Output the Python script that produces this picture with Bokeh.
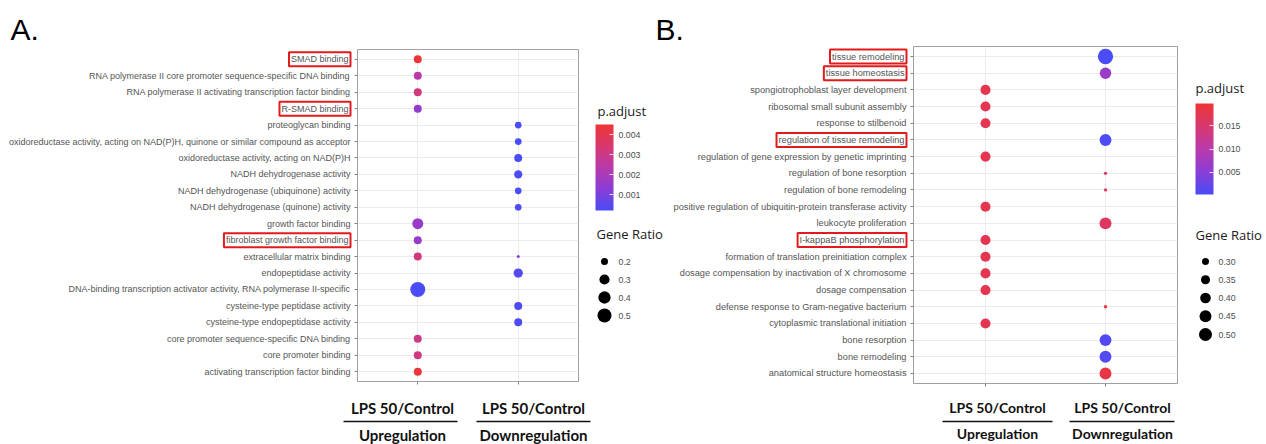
import math
from bokeh.plotting import figure
from bokeh.layouts import row, column
from bokeh.models import (ColumnDataSource, FactorRange, Range1d, LinearColorMapper,
                          ColorBar, FixedTicker, PrintfTickFormatter, Label, BoxAnnotation)
from bokeh.core.properties import value
from bokeh.embed import file_html
from bokeh.resources import INLINE

# ---------------- data ----------------
CONDITIONS = ["Upregulation", "Downregulation"]
CAPTION_TOP = "LPS 50/Control"
PANEL_LETTERS = ["A.", "B."]

A_terms = [
    "SMAD binding",
    "RNA polymerase II core promoter sequence-specific DNA binding",
    "RNA polymerase II activating transcription factor binding",
    "R-SMAD binding",
    "proteoglycan binding",
    "oxidoreductase activity, acting on NAD(P)H, quinone or similar compound as acceptor",
    "oxidoreductase activity, acting on NAD(P)H",
    "NADH dehydrogenase activity",
    "NADH dehydrogenase (ubiquinone) activity",
    "NADH dehydrogenase (quinone) activity",
    "growth factor binding",
    "fibroblast growth factor binding",
    "extracellular matrix binding",
    "endopeptidase activity",
    "DNA-binding transcription activator activity, RNA polymerase II-specific",
    "cysteine-type peptidase activity",
    "cysteine-type endopeptidase activity",
    "core promoter sequence-specific DNA binding",
    "core promoter binding",
    "activating transcription factor binding",
]
A_up_ratio = [0.225, 0.225, 0.225, 0.225, None, None, None, None, None, None,
              0.337, 0.225, 0.225, None, 0.566, None, None, 0.225, 0.225, 0.225]
A_up_padj = [0.0045, 0.0024, 0.0032, 0.0015, None, None, None, None, None, None,
             0.0016, 0.0016, 0.0032, None, 0.0002, None, None, 0.0030, 0.0031, 0.0043]
A_down_ratio = [None, None, None, None, 0.193, 0.193, 0.225, 0.234, 0.193, 0.193,
                None, None, 0.154, 0.267, None, 0.225, 0.225, None, None, None]
A_down_padj = [None, None, None, None, 0.0002, 0.0002, 0.0002, 0.0002, 0.0002, 0.0003,
               None, None, 0.0014, 0.0004, None, 0.0003, 0.0003, None, None, None]
A_highlight = ["SMAD binding", "R-SMAD binding", "fibroblast growth factor binding"]
A_cbar_ticks = [0.001, 0.002, 0.003, 0.004]
A_size_breaks = [0.2, 0.3, 0.4, 0.5]
A_size_labels = ["0.2", "0.3", "0.4", "0.5"]

B_terms = [
    "tissue remodeling",
    "tissue homeostasis",
    "spongiotrophoblast layer development",
    "ribosomal small subunit assembly",
    "response to stilbenoid",
    "regulation of tissue remodeling",
    "regulation of gene expression by genetic imprinting",
    "regulation of bone resorption",
    "regulation of bone remodeling",
    "positive regulation of ubiquitin-protein transferase activity",
    "leukocyte proliferation",
    "I-kappaB phosphorylation",
    "formation of translation preinitiation complex",
    "dosage compensation by inactivation of X chromosome",
    "dosage compensation",
    "defense response to Gram-negative bacterium",
    "cytoplasmic translational initiation",
    "bone resorption",
    "bone remodeling",
    "anatomical structure homeostasis",
]
B_up_ratio = [None, None, 0.38, 0.38, 0.38, None, 0.38, None, None, 0.38,
              None, 0.38, 0.38, 0.38, 0.38, None, 0.38, None, None, None]
B_up_padj = [None, None, 0.0175, 0.0175, 0.0175, None, 0.0175, None, None, 0.0175,
             None, 0.0175, 0.0175, 0.0175, 0.0175, None, 0.0175, None, None, None]
B_down_ratio = [0.624, 0.43, None, None, None, 0.45, None, 0.266, 0.266, None,
                0.45, None, None, None, None, 0.266, None, 0.45, 0.45, 0.45]
B_down_padj = [0.0002, 0.0067, None, None, None, 0.0005, None, 0.0160, 0.0160, None,
               0.0160, None, None, None, None, 0.0198, None, 0.0008, 0.0010, 0.0185]
B_highlight = ["tissue remodeling", "tissue homeostasis",
               "regulation of tissue remodeling", "I-kappaB phosphorylation"]
B_cbar_ticks = [0.005, 0.010, 0.015]
B_size_breaks = [0.30, 0.35, 0.40, 0.45, 0.50]
B_size_labels = ["0.30", "0.35", "0.40", "0.45", "0.50"]

# ---------------- style ----------------
GRAD = ["#4A4CF6", "#8B3DD6", "#B93AAB", "#D8386F", "#EE3535"]
LABEL_GRAY = "#555555"
TICK_GRAY = "#4D4D4D"
HL_RED = "#E31A1C"
TITLE_FONT = "Open Sans"
AXIS_FONT = "Liberation Sans"
CAP_FONT = "Lato"
W, H = 1266, 444
HDR_H, MID_H = 46, 344
CAP_H = H - HDR_H - MID_H


def build_palette(stops, n=256):
    rgb = [tuple(int(s[i:i + 2], 16) for i in (1, 3, 5)) for s in stops]
    out = []
    for k in range(n):
        t = k / (n - 1) * (len(rgb) - 1)
        i = min(int(t), len(rgb) - 2)
        f = t - i
        c = tuple(round(rgb[i][j] + (rgb[i + 1][j] - rgb[i][j]) * f) for j in range(3))
        out.append("#%02x%02x%02x" % c)
    return out


PALETTE = build_palette(GRAD)


def size_scale(values, dmin, dmax):
    lo, hi = min(values), max(values)
    return lambda v: dmin + (dmax - dmin) * math.sqrt(max(v - lo, 0) / (hi - lo))


def plain_fig(width, height, x_range=None, y_range=None, top=0, bottom=0):
    f = figure(width=width, height=height,
               x_range=x_range if x_range is not None else Range1d(0, width),
               y_range=y_range if y_range is not None else Range1d(0, height),
               x_axis_type=None, y_axis_type=None, output_backend="svg",
               toolbar_location=None, min_border=0, frame_align=False)
    f.min_border_top = top
    f.min_border_bottom = bottom
    f.outline_line_color = None
    return f


def dot_panel(terms, up_r, up_p, dn_r, dn_p, highlight, *, lab_w, width, left, right,
              top, bottom, label_px, dmin, dmax):
    t, c, r, pv = [], [], [], []
    for i, term in enumerate(terms):
        for cond, rr, pp in ((CONDITIONS[0], up_r[i], up_p[i]), (CONDITIONS[1], dn_r[i], dn_p[i])):
            if rr is not None:
                t.append(term); c.append(cond); r.append(rr); pv.append(pp)
    mapper = LinearColorMapper(palette=PALETTE, low=min(pv), high=max(pv))
    size_of = size_scale(r, dmin, dmax)
    src = ColumnDataSource(dict(term=t, cond=c, ratio=r, padj=pv, size=[size_of(v) for v in r]))
    factors_y = terms[::-1]
    y_range = FactorRange(factors=factors_y, range_padding=0.1, range_padding_units="absolute")
    p = figure(width=width, height=MID_H,
               x_range=FactorRange(factors=CONDITIONS, range_padding=0.1, range_padding_units="absolute"),
               y_range=y_range, output_backend="svg", toolbar_location=None,
               min_border_left=left, min_border_right=right,
               min_border_top=top, min_border_bottom=bottom, frame_align=False)
    p.scatter(x="cond", y="term", size="size", source=src,
              fill_color={"field": "padj", "transform": mapper}, line_color=None)
    p.outline_line_color = "#A0A0A0"
    p.outline_line_width = 1
    p.grid.grid_line_color = "#EBEBEB"
    p.grid.grid_line_width = 1
    for ax in (p.xaxis, p.yaxis):
        ax.axis_line_color = None
        ax.major_tick_line_color = "#7F7F7F"
        ax.major_tick_out = 3
        ax.major_tick_in = 0
        ax.minor_tick_line_color = None
        ax.major_label_text_color = None
        ax.major_label_standoff = 0

    # term labels live in their own strip, sharing the categorical y range
    lab = plain_fig(lab_w, MID_H, y_range=y_range, top=top, bottom=bottom)
    plain = [tm for tm in terms if tm not in highlight]
    lab.text(x=[lab_w - 3] * len(plain), y=plain, text=plain,
             text_align="right", text_baseline="middle",
             text_font=value(AXIS_FONT), text_font_size=f"{label_px}px",
             text_color=LABEL_GRAY)
    for h in highlight:
        lab.add_layout(Label(x=lab_w - 3, y=factors_y.index(h) + 0.5, text=h,
                             text_align="right", text_baseline="middle",
                             text_font=AXIS_FONT, text_font_size=f"{label_px}px",
                             text_color=LABEL_GRAY, border_line_color=HL_RED,
                             border_line_width=2, padding=2))
    return lab, p, mapper, size_of


def legend_fig(width, mapper, ticks, fmt, title_x, title_y, cb_x, cb_y, cb_h,
               size_title_x, size_title_y, dot_x, dot_y0, dot_step, label_x,
               breaks, labels, size_of):
    lf = plain_fig(width, MID_H)
    lf.text(x=[title_x, size_title_x], y=[title_y, size_title_y], text=["p.adjust", "Gene Ratio"],
            text_font=value(TITLE_FONT), text_font_size="13px",
            text_color="#1A1A1A", text_baseline="middle")
    ys = [dot_y0 - i * dot_step for i in range(len(breaks))]
    lf.scatter(x=[dot_x] * len(breaks), y=ys, size=[size_of(b) for b in breaks],
               fill_color="black", line_color=None)
    lf.text(x=[label_x] * len(breaks), y=ys, text=labels, text_font=value(AXIS_FONT),
            text_font_size="8.8px", text_color=TICK_GRAY, text_baseline="middle")
    cb = ColorBar(color_mapper=mapper, location=(cb_x, cb_y), width=18, height=cb_h,
                  padding=0, margin=0, ticker=FixedTicker(ticks=ticks),
                  formatter=PrintfTickFormatter(format=fmt),
                  major_label_text_font=AXIS_FONT, major_label_text_font_size="8.8px",
                  major_label_text_color=TICK_GRAY, major_tick_line_color="white",
                  major_tick_line_alpha=0.8, major_tick_in=4, major_tick_out=0,
                  minor_tick_line_color=None, bar_line_color=None,
                  border_line_color=None, background_fill_color=None, label_standoff=5)
    lf.add_layout(cb, "center")
    return lf


# ---------------- panels ----------------
labA, figA, mapA, sizeA = dot_panel(A_terms, A_up_ratio, A_up_padj, A_down_ratio, A_down_padj,
                                    A_highlight, lab_w=353, width=239, left=4, right=14,
                                    top=3, bottom=9, label_px=9, dmin=3, dmax=15)
legA = legend_fig(78, mapA, A_cbar_ticks, "%.3f", 5, 280, 3, 180, 86,
                  4, 157, 12, 129, 18, 26, A_size_breaks, A_size_labels, sizeA)

labB, figB, mapB, sizeB = dot_panel(B_terms, B_up_ratio, B_up_padj, B_down_ratio, B_down_padj,
                                    B_highlight, lab_w=239, width=271, left=4, right=3,
                                    top=0, bottom=7, label_px=9.25, dmin=3.3, dmax=15.3)
legB = legend_fig(86, mapB, B_cbar_ticks, "%.3f", 15, 303, 15, 196, 91,
                  15, 156, 25, 129, 18.25, 38, B_size_breaks, B_size_labels, sizeB)

# ---------------- header (panel letters) ----------------
hdr = plain_fig(W, HDR_H)
hdr.text(x=[10, 655], y=[HDR_H - 28.5, HDR_H - 28.5], text=PANEL_LETTERS,
         text_font=value(AXIS_FONT), text_font_size="30px", text_color="black",
         text_baseline="middle")

# ---------------- captions under the panels ----------------
cap = plain_fig(W, CAP_H)
cap_specs = [  # (centre x, top text middle, bottom text middle, underline y, underline span, font px)
    (402, 37, 10, 23, (343, 457), 15),
    (533, 37, 10, 23, (476, 590), 15),
    (997, 37, 11, 23, (942, 1052), 14),
    (1122, 37, 11, 23, (1069, 1174), 14),
]
for k, (cx, yt, yb, yl, (l, rr), px) in enumerate(cap_specs):
    cap.text(x=[cx, cx], y=[yt, yb], text=[CAPTION_TOP, CONDITIONS[k % 2]],
             text_align="center", text_baseline="middle",
             text_font=value(CAP_FONT), text_font_style="bold",
             text_font_size=f"{px}px", text_color="#111111")
    cap.add_layout(BoxAnnotation(left=l, right=rr, bottom=yl - 0.8, top=yl + 0.8,
                                 fill_color="#111111", fill_alpha=1, line_color=None))

layout = column(hdr, row(labA, figA, legA, labB, figB, legB), cap)

open("out.html", "w").write(file_html(layout, INLINE))
